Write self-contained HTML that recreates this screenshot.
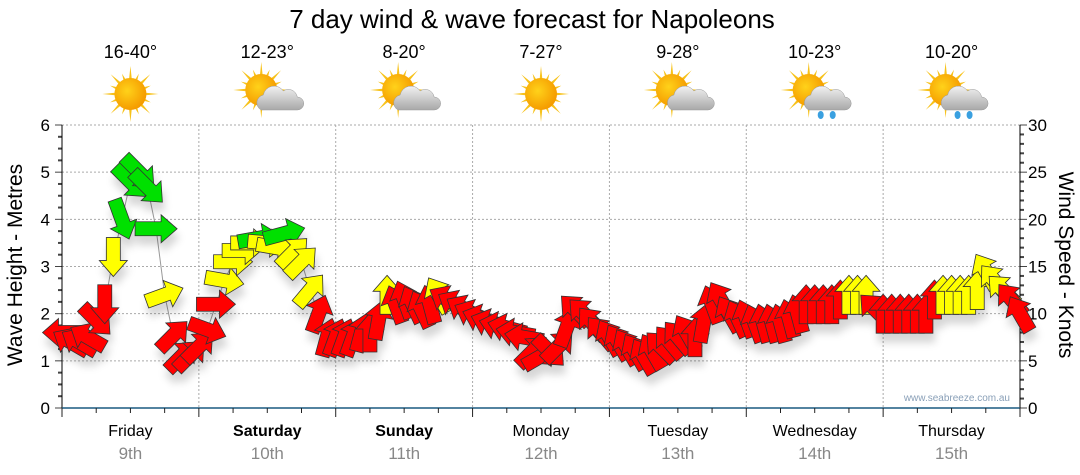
<!DOCTYPE html>
<html><head><meta charset="utf-8">
<style>
body{margin:0;background:#fff;}
svg{display:block;font-family:"Liberation Sans",sans-serif;}
</style></head>
<body>
<svg id="chart" width="1080" height="475" viewBox="0 0 1080 475">
<defs>
<filter id="sh" x="-50%" y="-50%" width="200%" height="200%"><feDropShadow dx="2" dy="9" stdDeviation="4" flood-color="#000" flood-opacity="0.16"/></filter>
<radialGradient id="sunG" cx="0.4" cy="0.4" r="0.6"><stop offset="0" stop-color="#ffd21a"/><stop offset="1" stop-color="#f59c00"/></radialGradient>
<linearGradient id="cloudG" x1="0" y1="0" x2="0" y2="1"><stop offset="0" stop-color="#f2f2f2"/><stop offset="1" stop-color="#a8a8a8"/></linearGradient>
</defs>
<text x="532" y="28" font-size="26" text-anchor="middle" fill="#000">7 day wind &amp; wave forecast for Napoleons</text>
<g id="grid"></g>
<g id="axes"></g>
<g id="icons"></g>
<polyline id="windline" fill="none" stroke="#999" stroke-width="1"/>
<g id="arrows" filter="url(#sh)"></g>
<text x="1010" y="401" font-size="10" text-anchor="end" fill="#8aa0b8">www.seabreeze.com.au</text>
<text transform="translate(22,265) rotate(-90)" font-size="21" text-anchor="middle">Wave Height - Metres</text>
<text transform="translate(1059,265) rotate(90)" font-size="21" text-anchor="middle">Wind Speed - Knots</text>
</svg>
<script>
const days = ["Friday","Saturday","Sunday","Monday","Tuesday","Wednesday","Thursday"];
const dates = ["9th","10th","11th","12th","13th","14th","15th"];
const temps = ["16-40°","12-23°","8-20°","7-27°","9-28°","10-23°","10-20°"];
const weather = ["sun","cloud","cloud","sun","cloud","rain","rain"];
const boldDays = [false,true,true,false,false,false,false];
const waveTicks = [0,1,2,3,4,5,6];
const windTicks = [0,5,10,15,20,25,30];
const windSpeed = [8,7,7,7.5,9.3,11,16,20,24,25,23.4,19,12,7.7,5.5,5.6,
 6.5,8.3,11,13.5,15.5,16.7,17.5,18,17.5,17,18.5,16.5,15.5,12.5,10,7.5,
 7.5,7.5,7.5,8,8,9.3,12,11,11.5,11,10.5,11,12,11.5,11,10.5,
 10,9.5,9,8.7,8.5,8,7.5,6,5.5,6,6.5,8.5,10.4,10,9,8,
 7.5,7,6.5,6,5.5,6,6.5,7,7.5,8,7.5,9,11,11.5,10,9.5,
 9.5,9,9,9,9,9.5,10,11,11,11,11,11.5,12,12,12,10.5,
 10,10,10,10,10,10,11.5,12,12,12,12,12.5,14.5,13.5,12.5,11.5,10];
const windDir = [270,300,300,300,135,180,180,160,135,135,135,90,70,45,45,45,
 45,110,90,100,90,90,90,80,95,100,75,45,45,40,20,15,
 20,20,20,15,0,10,0,340,340,335,335,345,330,300,300,300,
 295,290,290,285,285,280,280,45,60,135,45,20,315,315,320,320,
 330,330,330,330,330,330,315,320,320,330,0,10,340,330,330,335,
 340,340,345,345,345,345,345,0,0,0,0,0,0,0,0,315,
 0,0,0,0,0,0,0,0,0,0,0,0,330,320,315,320,330];

const svg = document.getElementById('chart');
const NS = "http://www.w3.org/2000/svg";
const X0=62, X1=1020, Y0=408, Y6=125, DAYW=(X1-X0)/7;
const yM = m => Y0 - m*(Y0-Y6)/6;
const yK = k => Y0 - k*(Y0-Y6)/30;
const xI = i => X0 + i*DAYW/16;
function mk(tag, attrs, parent){const e=document.createElementNS(NS,tag);for(const k in attrs)e.setAttribute(k,attrs[k]);parent.appendChild(e);return e;}
const grid=document.getElementById('grid'), axes=document.getElementById('axes'), icons=document.getElementById('icons');

waveTicks.forEach(v=>{
  if(v>0){const g=mk('line',{x1:X0,x2:X1,y1:yM(v),y2:yM(v),stroke:'#aaa','stroke-dasharray':'2,2'},grid);
  
  }
  const t=mk('text',{x:50,y:yM(v)+6,'font-size':17,'text-anchor':'end'},axes);t.textContent=v;
  
  
});
for(let q=0;q<=24;q++){const y=yM(q/4);mk('line',{x1:X0-(q%4?4:7),x2:X0,y1:y,y2:y,stroke:'#444','stroke-width':q%4?2:1},axes);}
windTicks.forEach(v=>{
  const t=mk('text',{x:1028,y:yK(v)+6,'font-size':17},axes);t.textContent=v;
  
  
});
for(let k=0;k<=30;k++){const y=yK(k);mk('line',{x1:X1,x2:X1+(k%5?4:7),y1:y,y2:y,stroke:'#444','stroke-width':k%5?2:1},axes);}
mk('line',{x1:X0,x2:X0,y1:Y6,y2:Y0+8,stroke:'#000'},axes);
mk('line',{x1:X1,x2:X1,y1:Y6,y2:Y0+8,stroke:'#000'},axes);
mk('line',{x1:X0,x2:X1,y1:Y0,y2:Y0,stroke:'#1a5a80','stroke-width':1.5},axes);
for(let q=0;q<=28;q++){const x=X0+q*DAYW/4;mk('line',{x1:x,x2:x,y1:Y0,y2:Y0+(q%4?5:9),stroke:'#222'},axes);}
days.forEach((d,i)=>{
  const x=X0+i*DAYW, c=x+DAYW/2;
  if(i>0){const g=mk('line',{x1:x,x2:x,y1:Y6,y2:Y0,stroke:'#aaa','stroke-dasharray':'2,2'},grid);
  
  }
  const t=mk('text',{x:c,y:436,'font-size':16,'text-anchor':'middle','font-weight':boldDays[i]?'bold':'normal'},axes);t.textContent=d;
  
  
  const t2=mk('text',{x:c,y:459,'font-size':17,'text-anchor':'middle',fill:'#888'},axes);t2.textContent=dates[i];
  
  
  const t3=mk('text',{x:c,y:58,'font-size':18,'text-anchor':'middle'},icons);t3.textContent=temps[i];
  
  
  const g=mk('g',{transform:`translate(${c},94)`},icons);
  
  
  const sx = weather[i]==='sun'?0:-6, sy=weather[i]==='sun'?0:-4;
  for(let r=0;r<16;r++){const a=r*Math.PI/8, L=r%2?22:28;
    mk('polygon',{points:`${sx+Math.cos(a-0.12)*13},${sy+Math.sin(a-0.12)*13} ${sx+Math.cos(a)*L},${sy+Math.sin(a)*L} ${sx+Math.cos(a+0.12)*13},${sy+Math.sin(a+0.12)*13}`,fill:'#f7c21a'},g);}
  mk('circle',{cx:sx,cy:sy,r:16,fill:'url(#sunG)'},g);
  if(weather[i]!=='sun'){
    mk('path',{d:'M-6,16 a8,8 0 0 1 2,-15 a11,11 0 0 1 20,-4 a9,9 0 0 1 14,6 a6.5,6.5 0 0 1 0,13 z',fill:'url(#cloudG)',stroke:'#999','stroke-width':0.5},g);
    if(weather[i]==='rain'){mk('ellipse',{cx:6,cy:21,rx:3,ry:4,fill:'#3aa0e0'},g);mk('ellipse',{cx:18,cy:21,rx:3,ry:4,fill:'#3aa0e0'},g);}
  }
});

document.getElementById('windline').setAttribute('points',windSpeed.map((v,i)=>xI(i)+','+yK(v)).join(' '));
const ag=document.getElementById('arrows');
windSpeed.forEach((v,i)=>{
  const col = v>=18?'#00e000':(v>=12?'#ffff00':'#ff0000');
  const L=v>=18?42:39;
  const h=L/2;
  const p=mk('polygon',{points:`0,${-h} 14,${-h+16} 7,${-h+16} 7,${h} -7,${h} -7,${-h+16} -14,${-h+16}`,
    fill:col,stroke:'#333','stroke-width':0.8,transform:`translate(${xI(i)},${yK(v)}) rotate(${windDir[i]})`},ag);
  
  
});
</script>
</body></html>
